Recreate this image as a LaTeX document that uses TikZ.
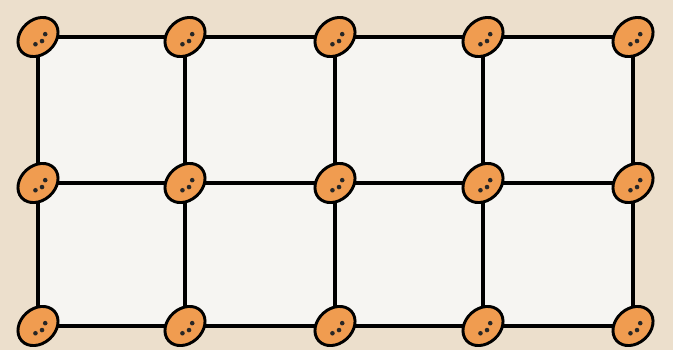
\documentclass[tikz,border=0pt]{standalone}
\usepackage{xcolor}
\usetikzlibrary{shapes.geometric, calc}

\definecolor{paper}{RGB}{236,223,204}
\definecolor{cellwhite}{RGB}{246,245,242}
\definecolor{beadorange}{RGB}{240,156,80}

\begin{document}
\begin{tikzpicture}[
  x=0.75pt, y=-0.75pt,
  bead/.style={ellipse, draw=black, line width=2.2pt, fill=beadorange,
    minimum width=33pt, minimum height=26pt, inner sep=0pt, rotate=42,
    path picture={
      \fill[black!85] ($(path picture bounding box.center)+(-7,4)$) circle (2.3);
      \fill[black!85] ($(path picture bounding box.center)+(0,6)$) circle (2.3);
      \fill[black!85] ($(path picture bounding box.center)+(7,3)$) circle (2.3);
    }},
  link/.style={line width=2.3pt, line cap=round}
]
\fill[paper] (0,0) rectangle (673,350);
\useasboundingbox (0,0) rectangle (673,350);
% grid points
\foreach \x [count=\i] in {38,185,335,483,633}
  \foreach \y [count=\j] in {37,183,326}
    \coordinate (p\i\j) at (\x,\y);
\fill[cellwhite] (p11) rectangle (p53);
% links
\foreach \i [count=\k from 2] in {1,2,3,4}
  \foreach \j in {1,2,3}
    \draw[link] (p\i\j) -- (p\k\j);
\foreach \i in {1,...,5}
  \foreach \j [count=\k from 2] in {1,2}
    \draw[link] (p\i\j) -- (p\i\k);
% beads
\foreach \i in {1,...,5}
  \foreach \j in {1,2,3}
    \node[bead] (b\i\j) at (p\i\j) {};
\end{tikzpicture}
\end{document}
